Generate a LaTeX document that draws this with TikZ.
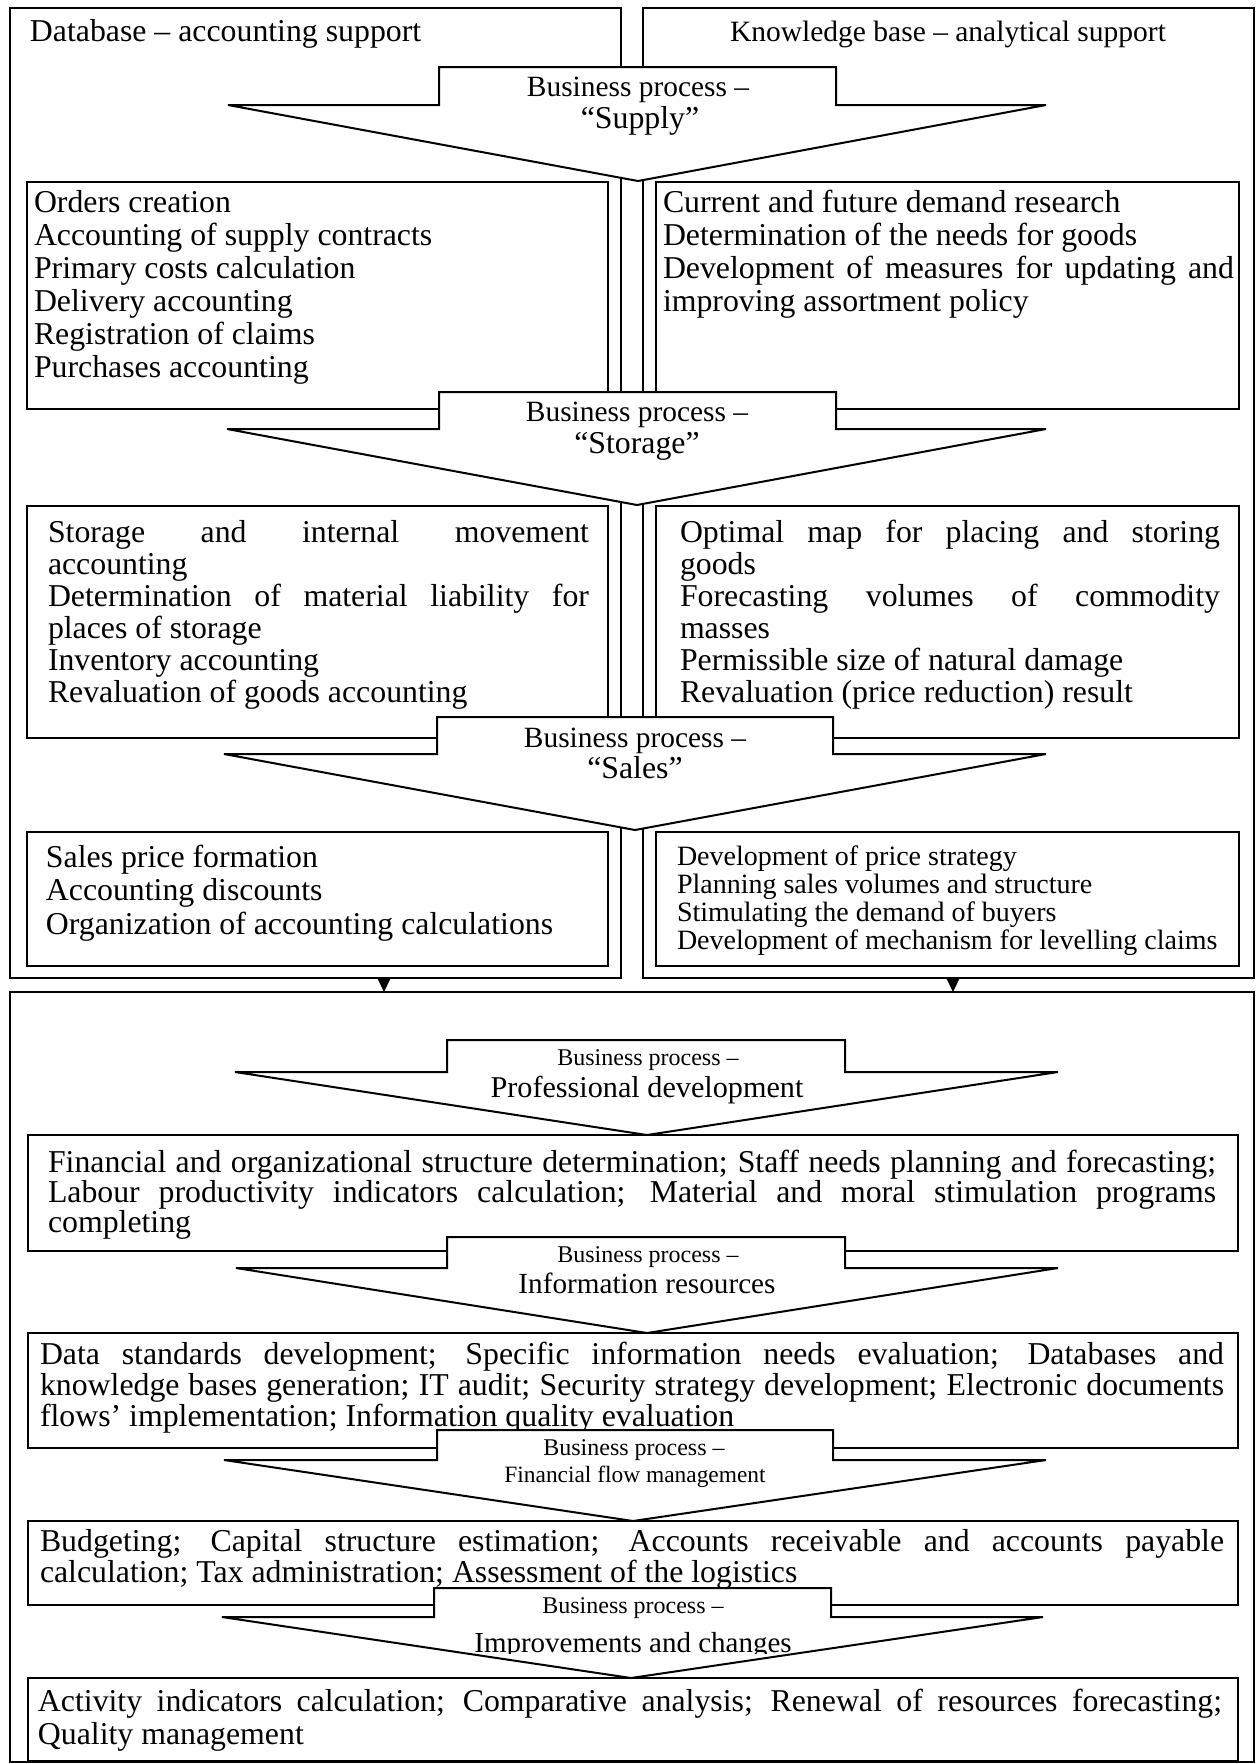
\documentclass[tikz,border=0pt]{standalone}
\usepackage{fontspec}
\setmainfont{Liberation Serif}
\usetikzlibrary{arrows.meta}
\newcommand{\setfs}[2]{\fontsize{#1pt}{#2pt}\selectfont}
% a fully justified line inside a text block
\newcommand{\jline}[1]{\makebox[\linewidth][s]{#1}}
% block arrow: rect left, rect right, top, shoulder, wing left, wing right, tip x, tip y
\newcommand{\bparrow}[8]{%
  \draw[procarrow] (#1,#3) -- (#2,#3) -- (#2,#4) -- (#6,#4) -- (#7,#8) -- (#5,#4) -- (#1,#4) -- cycle;}

\begin{document}
\begin{tikzpicture}[x=0.5pt,y=-0.5pt,
  frame/.style={draw, line width=1pt, inner sep=0pt, outer sep=0pt, anchor=north west},
  procarrow/.style={draw, fill=white, line width=1pt, line join=miter},
  txt/.style={anchor=base west, inner sep=0pt, outer sep=0pt},
  lbl/.style={anchor=base, inner sep=0pt, outer sep=0pt},
  conn/.style={line width=1pt, -{Triangle[length=7pt,width=6.5pt]}}]
\useasboundingbox (0,0) rectangle (1256,1763);
\fill[white] (0,0) rectangle (1256,1763);

% ---------- upper part: two columns ----------
\node[frame, minimum width=305.5pt, minimum height=485pt] (tl) at (10,8) {};
\node[frame, minimum width=305.5pt, minimum height=485pt] (tr) at (643,8) {};

\node[txt, font=\setfs{15.9}{16.5}] (titleL) at (30,41) {Database – accounting support};
\node[lbl, font=\setfs{14.75}{16.5}] (titleR) at (948,41) {Knowledge base – analytical support};

% supply boxes
\node[frame, minimum width=290.5pt, minimum height=113.5pt] (supL) at (27,182) {};
\node[frame, minimum width=291.5pt, minimum height=113.5pt] (supR) at (656,182) {};
% storage boxes
\node[frame, minimum width=290.5pt, minimum height=116pt] (stoL) at (27,506) {};
\node[frame, minimum width=291.5pt, minimum height=116pt] (stoR) at (656,506) {};
% sales boxes
\node[frame, minimum width=290.5pt, minimum height=67pt] (salL) at (27,832) {};
\node[frame, minimum width=291.5pt, minimum height=67pt] (salR) at (656,832) {};

\node[txt] (supLt) at (34,212) {\begin{minipage}[t]{285pt}\setfs{15.9}{16.5}\raggedright
Orders creation\\
Accounting of supply contracts\\
Primary costs calculation\\
Delivery accounting\\
Registration of claims\\
Purchases accounting\end{minipage}};

\node[txt] (supRt) at (663,212) {\begin{minipage}[t]{285.5pt}\setfs{15.9}{16.5}\raggedright
Current and future demand research\\
Determination of the needs for goods\\
\jline{Development of measures for updating and}\\
improving assortment policy\end{minipage}};

\node[txt] (stoLt) at (48,542) {\begin{minipage}[t]{270.5pt}\setfs{15.9}{16}\raggedright
\jline{Storage and internal movement}\\
accounting\\
\jline{Determination of material liability for}\\
places of storage\\
Inventory accounting\\
Revaluation of goods accounting\end{minipage}};

\node[txt] (stoRt) at (680,542) {\begin{minipage}[t]{270pt}\setfs{15.9}{16}\raggedright
\jline{Optimal map for placing and storing}\\
goods\\
\jline{Forecasting volumes of commodity}\\
masses\\
Permissible size of natural damage\\
Revaluation (price reduction) result\end{minipage}};

\node[txt] (salLt) at (46,867) {\begin{minipage}[t]{280pt}\setfs{15.9}{16.75}\raggedright
Sales price formation\\
Accounting discounts\\
Organization of accounting calculations\end{minipage}};

\node[txt] (salRt) at (677,865) {\begin{minipage}[t]{280pt}\setfs{14}{14.15}\raggedright
Development of price strategy\\
Planning sales volumes and structure\\
Stimulating the demand of buyers\\
Development of mechanism for levelling claims\end{minipage}};

% process arrows of the upper part
\bparrow{439}{836}{67}{105}{228}{1046}{638}{181}
\node[lbl, font=\setfs{14.7}{16}] (supA) at (638,96) {Business process –};
\node[lbl, font=\setfs{15.9}{16}] (supB) at (640,128) {“Supply”};

\bparrow{439}{836}{392}{429}{227}{1046}{637}{505}
\node[lbl, font=\setfs{14.7}{16}] (stoA) at (637,421) {Business process –};
\node[lbl, font=\setfs{15.9}{16}] (stoB) at (637,453) {“Storage”};

\bparrow{437}{833}{717}{754}{224}{1046}{635}{830}
\node[lbl, font=\setfs{14.7}{16}] (salA) at (635,747) {Business process –};
\node[lbl, font=\setfs{15.9}{16}] (salB) at (635,778) {“Sales”};

% ---------- lower part ----------
\node[frame, minimum width=622pt, minimum height=385pt] (bot) at (10,992) {};

\draw[conn] ([xshift=34.25pt]tl.south) -- ([xshift=34.25pt]tl.south |- bot.north);
\draw[conn] ([xshift=2.25pt]tr.south) -- ([xshift=2.25pt]tr.south |- bot.north);

\node[frame, minimum width=605pt, minimum height=58pt] (prof) at (28,1135) {};
\node[frame, minimum width=605pt, minimum height=57.5pt] (data) at (28,1333) {};
\node[frame, minimum width=605pt, minimum height=42pt] (budg) at (28,1521) {};
\node[frame, minimum width=605pt, minimum height=41.5pt] (act) at (28,1678) {};

\node[txt] (proft) at (48,1172) {\begin{minipage}[t]{584pt}\setfs{15.9}{15}\raggedright
\jline{Financial and organizational structure determination; Staff needs planning and forecasting;}\\
\jline{Labour productivity indicators calculation; Material and moral stimulation programs}\\
completing\end{minipage}};

\node[txt] (datat) at (40,1364) {\begin{minipage}[t]{592pt}\setfs{15.9}{15.5}\raggedright
\jline{Data standards development; Specific information needs evaluation; Databases and}\\
\jline{knowledge bases generation; IT audit; Security strategy development; Electronic documents}\\
flows’ implementation; Information quality evaluation\end{minipage}};

\node[txt] (budgt) at (40,1551) {\begin{minipage}[t]{592pt}\setfs{15.9}{15.5}\raggedright
\jline{Budgeting; Capital structure estimation; Accounts receivable and accounts payable}\\
calculation; Tax administration; Assessment of the logistics\end{minipage}};

\node[txt] (actt) at (38,1711) {\begin{minipage}[t]{592pt}\setfs{15.9}{16.5}\raggedright
\jline{Activity indicators calculation; Comparative analysis; Renewal of resources forecasting;}\\
Quality management\end{minipage}};

% process arrows of the lower part
\bparrow{447}{845}{1040}{1072}{235}{1058}{647}{1135}
\node[lbl, font=\setfs{12}{13}] (profA) at (648,1065) {Business process –};
\node[lbl, font=\setfs{15.1}{16}] (profB) at (647,1097) {Professional development};

\bparrow{447}{845}{1237}{1268}{236}{1058}{647}{1333}
\node[lbl, font=\setfs{12}{13}] (infA) at (648,1262) {Business process –};
\node[lbl, font=\setfs{14.6}{16}] (infB) at (647,1293) {Information resources};

\bparrow{437}{833}{1430}{1460}{224}{1046}{633}{1521}
\node[lbl, font=\setfs{12}{13}] (finA) at (634,1455) {Business process –};
\node[lbl, font=\setfs{11.7}{13}] (finB) at (635,1482) {Financial flow management};

\bparrow{434}{831}{1588}{1617}{222}{1043}{631}{1678}
\node[lbl, font=\setfs{12}{13}] (impA) at (633,1613) {Business process –};
\begin{scope}
  \clip (0,1590) rectangle (1256,1653);
  \node[lbl, font=\setfs{14.5}{16}] (impB) at (633,1652) {Improvements and changes};
\end{scope}

\end{tikzpicture}
\end{document}
